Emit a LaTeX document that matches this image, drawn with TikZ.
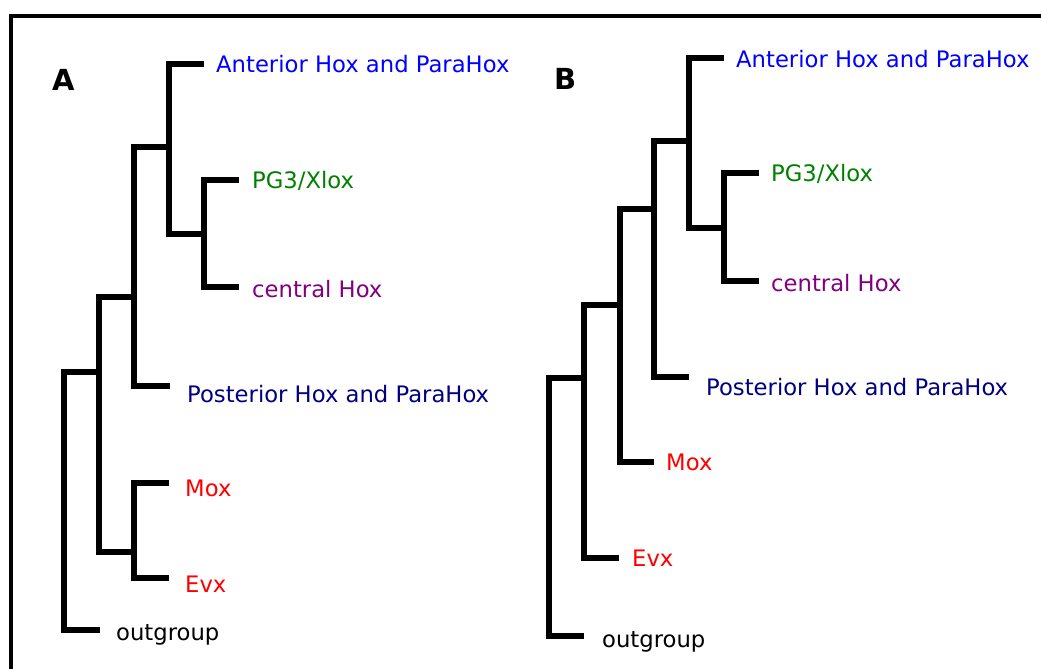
\documentclass[tikz,border=0pt]{standalone}
\usepackage{fontspec}
\setmainfont{DejaVu Sans}
\definecolor{antblue}{RGB}{0,0,255}
\definecolor{pggreen}{RGB}{0,128,0}
\definecolor{cenpurple}{RGB}{128,0,128}
\definecolor{postnavy}{RGB}{0,0,128}
\definecolor{mred}{RGB}{255,0,0}
\begin{document}
\begin{tikzpicture}[x=1pt,y=-1pt,
  br/.style={line width=5.5pt, line join=miter, line cap=butt},
  lab/.style={anchor=base west, inner sep=0pt, font=\fontsize{22.7}{26}\selectfont},
  panel/.style={anchor=base west, inner sep=0pt, font=\fontsize{29}{34}\selectfont\bfseries}]
\useasboundingbox (0,0) rectangle (1041,669);
\draw[line width=4pt] (10.5,690) -- (10.5,16.5) -- (1060,16.5);

% ---------- tree A ----------
\coordinate (aR) at (64,500);
\coordinate (aC1) at (99,372);
\coordinate (aC2) at (134,297);
\coordinate (aC3) at (169,147);
\coordinate (aC4) at (204,234);
\coordinate (aM) at (134,552);
\coordinate (aTo) at (100,630);
\coordinate (aTp) at (170,386);
\coordinate (aTa) at (204,64);
\coordinate (aTg) at (239,180);
\coordinate (aTc) at (239,287);
\coordinate (aTm) at (169,483);
\coordinate (aTe) at (169,578);
\draw[br] (aC1) -| (aR) |- (aTo);
\draw[br] (aC2) -| (aC1) |- (aM);
\draw[br] (aC3) -| (aC2) |- (aTp);
\draw[br] (aTa) -| (aC3) |- (aC4);
\draw[br] (aTg) -| (aC4) |- (aTc);
\draw[br] (aTm) -| (aM) |- (aTe);

\node[panel] (pA) at (52,90) {A};
\node[lab, text=antblue] (aAnt) at (216,73) {Anterior Hox and ParaHox};
\node[lab, text=pggreen] (aPG) at (252,188) {PG3/Xlox};
\node[lab, text=cenpurple] (aCen) at (252,297) {central Hox};
\node[lab, text=postnavy] (aPost) at (187,402) {Posterior Hox and ParaHox};
\node[lab, text=mred] (aMox) at (185,496) {Mox};
\node[lab, text=mred] (aEvx) at (185,592) {Evx};
\node[lab] (aOut) at (116,640) {outgroup};

% ---------- tree B ----------
\coordinate (bR) at (549,500);
\coordinate (bD1) at (584,378);
\coordinate (bD2) at (620,305);
\coordinate (bD3) at (654,209);
\coordinate (bD4) at (689,141);
\coordinate (bD5) at (724,228);
\coordinate (bTo) at (584,636);
\coordinate (bTe) at (619,558);
\coordinate (bTm) at (654,462);
\coordinate (bTp) at (689,377);
\coordinate (bTa) at (724,58);
\coordinate (bTg) at (759,173);
\coordinate (bTc) at (759,281);
\draw[br] (bD1) -| (bR) |- (bTo);
\draw[br] (bD2) -| (bD1) |- (bTe);
\draw[br] (bD3) -| (bD2) |- (bTm);
\draw[br] (bD4) -| (bD3) |- (bTp);
\draw[br] (bTa) -| (bD4) |- (bD5);
\draw[br] (bTg) -| (bD5) |- (bTc);

\node[panel] (pB) at (554,89) {B};
\node[lab, text=antblue] (bAnt) at (736,67) {Anterior Hox and ParaHox};
\node[lab, text=pggreen] (bPG) at (771,181) {PG3/Xlox};
\node[lab, text=cenpurple] (bCen) at (771,291) {central Hox};
\node[lab, text=postnavy] (bPost) at (706,395) {Posterior Hox and ParaHox};
\node[lab, text=mred] (bMox) at (666,470) {Mox};
\node[lab, text=mred] (bEvx) at (632,566) {Evx};
\node[lab] (bOut) at (602,647) {outgroup};
\end{tikzpicture}
\end{document}
